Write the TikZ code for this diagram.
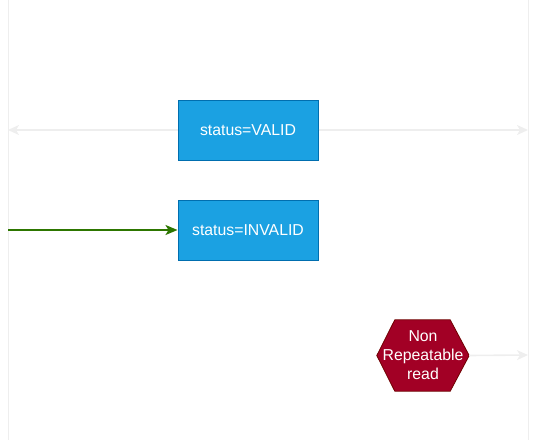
\documentclass[tikz,border=0pt]{standalone}
\usepackage{fontspec}
\setmainfont{Liberation Sans}
\usetikzlibrary{arrows.meta}
\definecolor{boxfill}{HTML}{1BA1E2}
\definecolor{boxline}{HTML}{006EAF}
\definecolor{hexfill}{HTML}{A20025}
\definecolor{hexline}{HTML}{6F0000}
\definecolor{lightline}{HTML}{EEEEEE}
\definecolor{greenline}{HTML}{2D7600}
\tikzset{
  statebox/.style={draw=boxline, fill=boxfill, line width=1pt, minimum width=140pt, minimum height=60pt, inner sep=0pt, text=white, font=\fontsize{15.8}{18}\selectfont},
  hexbox/.style={minimum width=92pt, minimum height=71pt, inner sep=0pt, text=white, align=center, font=\fontsize{15.8}{19}\selectfont},
  lifeline/.style={draw=lightline, line width=1pt},
  grayarrow/.style={draw=lightline, line width=1.6pt, -{Stealth[length=11pt,width=10pt,inset=3pt]}},
  greenarrow/.style={draw=greenline, line width=1.6pt, -{Stealth[length=12pt,width=10pt,inset=3pt]}}
}
\begin{document}
\begin{tikzpicture}[x=1pt,y=-1pt]
\useasboundingbox (0,0) rectangle (537,442);
% lifelines
\coordinate (lt) at (8,0);
\coordinate (lb) at (8,440);
\coordinate (rt) at (528,0);
\coordinate (rb) at (528,440);
\draw[lifeline] (lt) -- (lb);
\draw[lifeline] (rt) -- (rb);
% nodes
\node[statebox] (valid) at (248,130) {status=VALID};
\node[statebox] (invalid) at (248,230) {status=INVALID};
\node[hexbox] (hex) at (423,355.5) {};
\fill[hexfill, draw=hexline, line width=0.8pt]
  (hex.west) -- ([xshift=18pt]hex.north west) -- ([xshift=-19pt]hex.north east)
  -- (hex.east) -- ([xshift=-19pt]hex.south east) -- ([xshift=18pt]hex.south west) -- cycle;
\node[hexbox] (hextext) at (hex.center) {Non\\Repeatable\\read};
% connector ends
\coordinate (lvalid) at (8,130);
\coordinate (rvalid) at (528,130);
\coordinate (linvalid) at (8,230);
\coordinate (rhex) at (528,355);
\draw[grayarrow] (valid.west) -- (lvalid);
\draw[grayarrow] (valid.east) -- (rvalid);
\draw[greenarrow] (linvalid) -- (invalid.west);
\draw[grayarrow] (hex.east) -- (rhex);
\end{tikzpicture}
\end{document}
